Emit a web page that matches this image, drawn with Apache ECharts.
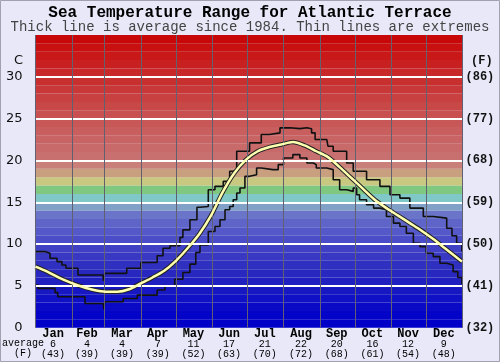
<!DOCTYPE html>
<html><head><meta charset="utf-8">
<script src="https://cdn.jsdelivr.net/npm/echarts@6/dist/echarts.min.js"></script>
<style>html,body{margin:0;padding:0;background:#e8e8f8}#c{width:500px;height:362px}</style>
</head><body><div id="c"></div>
<script>
// ---- data ----
const monthNames = ['Jan','Feb','Mar','Apr','May','Jun','Jul','Aug','Sep','Oct','Nov','Dec'];
const monthAvgC = [6,4,4,7,11,17,21,22,20,16,12,9];
const monthAvgF = [43,39,39,39,52,63,70,72,68,61,54,48];
const monthStartDays = [0,31,59,90,120,151,181,212,243,273,304,334,365];
const monthLabelDays = [15,44,74,104.5,135,165.5,196,227,257.5,288,318.5,349];
const cTicks = [0,5,10,15,20,25,30];
const fTickLabels = ['(32)','(41)','(50)','(59)','(68)','(77)','(86)'];

const avgDays  = [0,10,20,30,40,50,60,70,80,90,100,110,120,130,140,150,160,170,180,190,200,210,220,230,240,250,260,270,280,290,300,310,320,330,340,350,364.5];
const avgTemps = [7.3,6.7,6.0,5.4,4.9,4.5,4.3,4.3,4.6,5.3,6.0,6.8,8.0,9.5,11.2,13.4,16.2,18.5,20.1,21.1,21.6,21.9,22.2,21.8,21.1,20.4,19.2,17.9,16.6,15.3,14.3,13.4,12.5,11.6,10.6,9.5,7.9];

const maxDays  = [0,8,12.4,18.4,22.6,26,36.3,57.5,58.3,59,78,81,90,104,109,115,123.5,126,132,138,140.6,147.7,153.4,160.5,166,169,172,177.6,183,193,200,209,217.5,226,232,236,239,249,250,254.5,266,271.6,283,294.4,303,311.5,320,331.5,340,351.5,356,360,364.5];
const maxTemps = [9.1,8.9,8.3,7.9,7.5,7.1,6.3,6.3,5.6,6.5,7.1,7.1,7.8,8.6,9.5,9.8,10.8,11.7,12.9,14.4,14.5,16.5,16.9,17.5,18.7,18.9,21.1,21.1,22.1,23.1,23.3,23.9,23.8,23.9,23.8,23.3,22.5,22.7,21.7,21.1,19.7,18.7,17.7,16.9,15.9,15.5,14.3,13.3,13.1,11.9,11.0,10.1,9.1];

const minDays  = [0,2,16.7,19,31,42.3,57.8,58.5,59.3,75,87,104,110.7,119,126,132,137,140.6,147.7,153.4,157.7,162,166,169,172,174.8,179,183,189,193,203,207.5,212,220,226,232,237.5,240,249,254.5,260,266,271.6,274.5,277,283,289,294.4,300,306,311.5,317,323,328.6,334,340,345.7,351.5,357,361,364.5];
const minTemps = [5.1,4.7,4.2,3.7,3.7,2.9,2.9,2.2,3.1,3.5,3.9,4.5,5.0,5.8,6.6,7.6,9.0,9.9,11.5,12.1,12.9,14.1,14.5,15.3,16.1,16.7,18.1,18.3,19.1,18.9,18.9,19.5,20.3,20.7,20.3,19.7,19.5,19.1,18.9,17.7,16.5,16.3,16.7,15.9,15.3,14.7,14.3,14.1,13.3,12.5,12.1,11.3,10.1,9.7,8.9,8.5,7.7,7.5,6.7,6.0,5.2];

// ---- styles: one colour per 1-degree background band, from 0 upwards ----
const bandColors = [
  '#0000c8','#0404c8','#0a0ac6','#1010c4','#1818c2','#2020c0','#2828c0','#3030c0','#3838c2','#4040c4',
  '#4a4cc8','#5458c8','#5e64c8','#6a74c8','#80a0c8','#80c8c8','#80c880','#c8c880','#c8a080','#c88078',
  '#c87070','#c86a6a','#c86464','#c85e5e','#c85858','#c85050','#c84848','#c84040','#c83838','#c83030',
  '#c82828','#c82020','#c81818','#c81010','#c80808'];
const yMax = 35;
const bands = bandColors.map((c, i) => [{yAxis: i, itemStyle: {color: c}}, {yAxis: i + 1}]);
const pairs = (xs, ys) => xs.map((d, i) => [d, ys[i]]);
const mono = '"Liberation Mono", "DejaVu Sans Mono", monospace';

const chart = echarts.init(document.getElementById('c'), null, {renderer: 'canvas'});
chart.setOption({
  backgroundColor: '#e8e8f8',
  animation: false,
  title: {
    left: 'center', top: 4.5, itemGap: 0, padding: 0,
    text: 'Sea Temperature Range for Atlantic Terrace',
    subtext: 'Thick line is average since 1984. Thin lines are extremes',
    textStyle: {fontFamily: mono, fontWeight: 'bold', fontSize: 16, color: '#000', lineHeight: 16},
    subtextStyle: {fontFamily: mono, fontSize: 14, color: '#444', lineHeight: 14}
  },
  grid: {left: 35.5, right: 37.5, top: 35, bottom: 34.3},
  xAxis: {
    type: 'value', min: 0, max: 365,
    axisLine: {show: false}, axisTick: {show: false}, splitLine: {show: false},
    axisLabel: {
      customValues: monthLabelDays, margin: 1, interval: 0,
      formatter: function (v) {
        const i = monthLabelDays.indexOf(v);
        if (i < 0) return '';
        return '{m|' + monthNames[i] + '}\n{a|' + monthAvgC[i] + '}\n{a|(' + monthAvgF[i] + ')}';
      },
      rich: {
        m: {fontFamily: mono, fontWeight: 'bold', fontSize: 12, lineHeight: 11, color: '#000'},
        a: {fontFamily: mono, fontSize: 10, lineHeight: 10, color: '#000'}
      }
    }
  },
  yAxis: [{
    type: 'value', min: 0, max: yMax, interval: 5,
    axisLine: {show: false}, axisTick: {show: false}, splitLine: {show: false},
    axisLabel: {margin: 13, fontFamily: '"DejaVu Sans", sans-serif', fontSize: 13, color: '#111',
      formatter: v => cTicks.indexOf(v) >= 0 ? String(v) : ''}
  }, {
    type: 'value', min: 0, max: yMax, interval: 5, position: 'right',
    axisLine: {show: false}, axisTick: {show: false}, splitLine: {show: false},
    axisLabel: {margin: 3, fontFamily: mono, fontWeight: 'bold', fontSize: 12, color: '#111',
      formatter: v => { const i = cTicks.indexOf(v); return i >= 0 ? fTickLabels[i] : ''; }}
  }],
  graphic: [
    {type: 'text', left: 14, top: 54, style: {text: 'C', font: '13px "DejaVu Sans", sans-serif', fill: '#111'}},
    {type: 'text', left: 471, top: 55, style: {text: '(F)', font: 'bold 12px ' + mono, fill: '#111'}},
    {type: 'text', left: 2, top: 338, style: {text: 'average', font: '10px ' + mono, fill: '#000'}},
    {type: 'text', left: 14, top: 348, style: {text: '(F)', font: '10px ' + mono, fill: '#000'}},
    {type: 'rect', shape: {x: 0.5, y: 0.5, width: 499, height: 361}, style: {fill: null, stroke: '#a0a0b0', lineWidth: 1}, silent: true}
  ],
  series: [
    {type: 'line', data: [], z: 1, silent: true,
      markArea: {silent: true, label: {show: false}, data: bands}},
    {type: 'line', data: [], z: 2, silent: true,
      markLine: {silent: true, symbol: ['none', 'none'], label: {show: false},
        lineStyle: {color: '#ffffff', width: 2, type: 'solid'},
        data: cTicks.filter(v => v > 0).map(v => ({yAxis: v}))}},
    {type: 'line', data: [], z: 2, silent: true,
      markLine: {silent: true, symbol: ['none', 'none'], label: {show: false},
        lineStyle: {color: '#606070', width: 1, type: 'solid'},
        data: monthStartDays.map(d => ({xAxis: d}))}},
    {name: 'max', type: 'line', z: 3, step: 'end', showSymbol: false, symbol: 'none',
      lineStyle: {color: '#111', width: 1.6}, data: pairs(maxDays, maxTemps)},
    {name: 'min', type: 'line', z: 3, step: 'end', showSymbol: false, symbol: 'none',
      lineStyle: {color: '#111', width: 1.6}, data: pairs(minDays, minTemps)},
    {name: 'avgOutline', type: 'line', z: 4, smooth: 0.3, showSymbol: false, symbol: 'none',
      lineStyle: {color: '#222', width: 4.5}, data: pairs(avgDays, avgTemps)},
    {name: 'avg', type: 'line', z: 5, smooth: 0.3, showSymbol: false, symbol: 'none',
      lineStyle: {color: '#ffffb0', width: 2.5}, data: pairs(avgDays, avgTemps)}
  ]
});
</script></body></html>
